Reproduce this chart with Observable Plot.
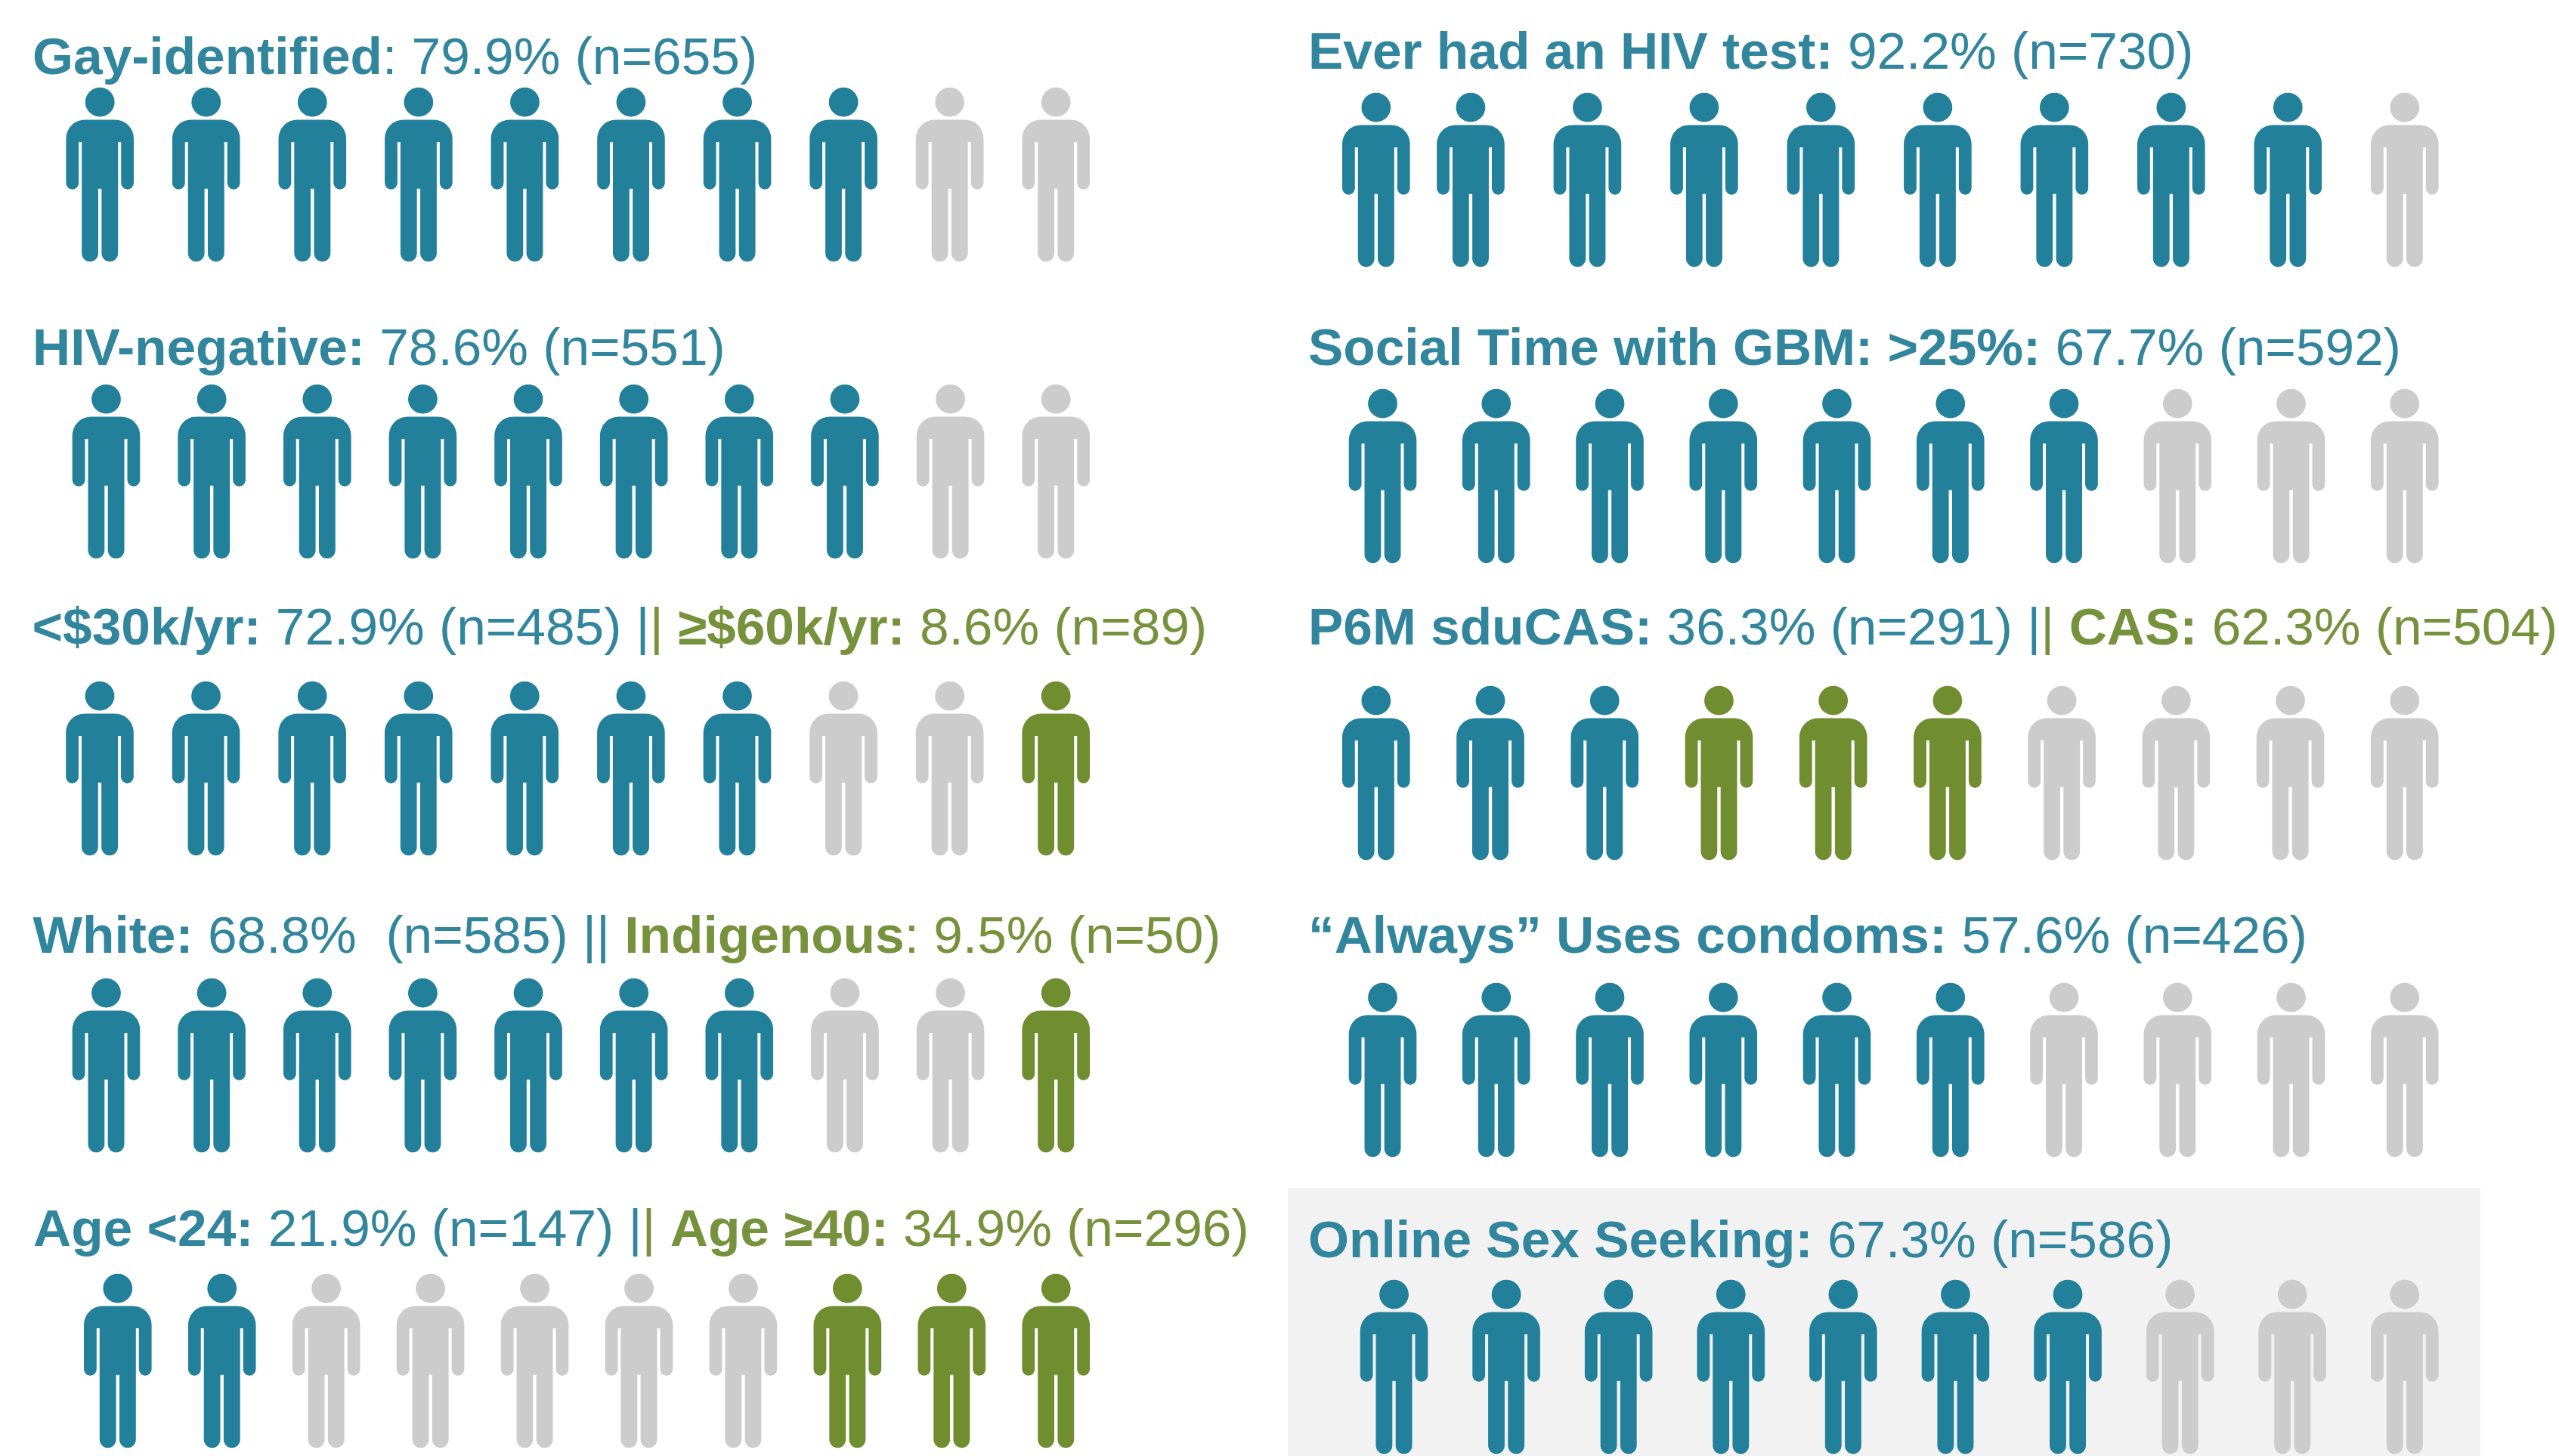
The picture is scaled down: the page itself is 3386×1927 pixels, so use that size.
<!DOCTYPE html>
<html>
<head>
<meta charset="utf-8">
<script src="https://cdn.jsdelivr.net/npm/d3@7"></script>
<script src="https://cdn.jsdelivr.net/npm/@observablehq/plot@0.6"></script>
<style>
html,body{margin:0;padding:0;background:#fff}
#page{position:relative;width:3386px;height:1927px;overflow:hidden;background:#fff}
.title{position:absolute;font-family:"Liberation Sans",Arial,sans-serif;font-size:69.45px;line-height:69.45px;white-space:pre}
.title b{font-weight:700}
.title .a{color:#31859c}
.title .b{color:#76923c}
.panel{position:absolute}
.panel svg{display:block;background:transparent;overflow:visible}
#shade{position:absolute;background:#f2f2f2}
</style>
</head>
<body>
<div id="page"></div>
<script>
// ---- data: text segments [style, text], where a/b = colour group and upper case = bold
const titleGay = [["A","Gay-identified"],["a",": 79.9% (n=655)"]];
const titleHiv = [["A","HIV-negative:"],["a"," 78.6% (n=551)"]];
const titleIncome = [["A","<$30k/yr:"],["a"," 72.9% (n=485) |"],["b","| "],["B","≥$60k/yr:"],["b"," 8.6% (n=89)"]];
const titleRace = [["A","White:"],["a"," 68.8%  (n=585) || "],["B","Indigenous"],["b",": 9.5% (n=50)"]];
const titleAge = [["A","Age <24:"],["a"," 21.9% (n=147) |"],["b","| "],["B","Age ≥40:"],["b"," 34.9% (n=296)"]];
const titleTest = [["A","Ever had an HIV test:"],["a"," 92.2% (n=730)"]];
const titleSocial = [["A","Social Time with GBM: >25%:"],["a"," 67.7% (n=592)"]];
const titleCas = [["A","P6M sduCAS:"],["a"," 36.3% (n=291) |"],["b","| "],["B","CAS:"],["b"," 62.3% (n=504)"]];
const titleCondom = [["A","“Always” Uses condoms:"],["a"," 57.6% (n=426)"]];
const titleOnline = [["A","Online Sex Seeking:"],["a"," 67.3% (n=586)"]];

// people per row, in order along the row: [group, count]
const peopleGay = [["primary",8],["rest",2]];
const peopleHiv = [["primary",8],["rest",2]];
const peopleIncome = [["primary",7],["rest",2],["secondary",1]];
const peopleRace = [["primary",7],["rest",2],["secondary",1]];
const peopleAge = [["primary",2],["rest",5],["secondary",3]];
const peopleTest = [["primary",9],["rest",1]];
const peopleSocial = [["primary",7],["rest",3]];
const peopleCas = [["primary",3],["secondary",3],["rest",4]];
const peopleCondom = [["primary",6],["rest",4]];
const peopleOnline = [["primary",7],["rest",3]];

// ---- layout (pixels), kept apart from the data
const colours = {primary:"#23809b", secondary:"#708e30", rest:"#cccccc"};
const figureHeight = 230.5;
const rows = [
  {title:titleGay,    people:peopleGay,    textX:43,   base:99,     x0:131.7,  x1:1396.7, bottom:345.5},
  {title:titleHiv,    people:peopleHiv,    textX:43,   base:483.5,  x0:140,    x1:1396.7, bottom:739},
  {title:titleIncome, people:peopleIncome, textX:42.5, base:853.3,  x0:131.5,  x1:1396.7, bottom:1132},
  {title:titleRace,   people:peopleRace,   textX:43.5, base:1261.7, x0:140,    x1:1396.7, bottom:1525},
  {title:titleAge,    people:peopleAge,    textX:44,   base:1649.3, x0:155.3,  x1:1396.7, bottom:1916},
  {title:titleTest,   people:peopleTest,   textX:1731, base:91.7,   x0:1820.3, x1:3181.3, bottom:352.3, firstSlot:1.19},
  {title:titleSocial, people:peopleSocial, textX:1731, base:484,    x0:1829,   x1:3181.3, bottom:745},
  {title:titleCas,    people:peopleCas,    textX:1731, base:853.3,  x0:1820.3, x1:3181.3, bottom:1138},
  {title:titleCondom, people:peopleCondom, textX:1731, base:1261.7, x0:1829,   x1:3181.3, bottom:1531},
  {title:titleOnline, people:peopleOnline, textX:1731, base:1665,   x0:1844,   x1:3181.3, bottom:1923.3}
];
const shade = {left:1704, right:3282, top:1572, bottom:1927};

// pictogram drawn around its own centre, scaled from the dot's radius
const person = {
  draw(ctx, size) {
    const k = Math.sqrt(size / Math.PI) / (figureHeight / 2);
    const X = x => k * x, Y = y => k * (y - figureHeight / 2);
    const end = (cx, cy, r) => ctx.arc(X(cx), Y(cy), k * r, 0, Math.PI);
    const headR = 19.4;
    ctx.moveTo(X(headR), Y(headR));
    ctx.arc(X(0), Y(headR), k * headR, 0, 2 * Math.PI);
    ctx.closePath();
    const top = 42.7, sh = 25, out = 44.8, ai = 28, li = 24, gap = 2.2, gapTop = 72.3, crotch = 134;
    const armR = (out - ai) / 2, legR = (li - gap) / 2;
    const armEnd = 135 - armR, legEnd = figureHeight - legR;
    ctx.moveTo(X(-out + sh), Y(top));
    ctx.lineTo(X(out - sh), Y(top));
    ctx.arcTo(X(out), Y(top), X(out), Y(top + sh), k * sh);
    ctx.lineTo(X(out), Y(armEnd));
    end(out - armR, armEnd, armR);
    ctx.lineTo(X(ai), Y(gapTop));
    ctx.lineTo(X(li), Y(gapTop));
    ctx.lineTo(X(li), Y(legEnd));
    end(li - legR, legEnd, legR);
    ctx.lineTo(X(gap), Y(crotch));
    ctx.lineTo(X(-gap), Y(crotch));
    ctx.lineTo(X(-gap), Y(legEnd));
    end(-gap - legR, legEnd, legR);
    ctx.lineTo(X(-li), Y(gapTop));
    ctx.lineTo(X(-ai), Y(gapTop));
    ctx.lineTo(X(-ai), Y(armEnd));
    end(-ai - armR, armEnd, armR);
    ctx.lineTo(X(-out), Y(top + sh));
    ctx.arcTo(X(-out), Y(top), X(-out + sh), Y(top), k * sh);
    ctx.closePath();
  }
};

const page = document.getElementById("page");
const shadeEl = document.createElement("div");
shadeEl.id = "shade";
Object.assign(shadeEl.style, {left: shade.left+"px", top: shade.top+"px", width: (shade.right-shade.left)+"px", height: (shade.bottom-shade.top)+"px"});
page.appendChild(shadeEl);

for (const row of rows) {
  // one person per slot, 1..10; firstSlot narrows the first gap where the reference does
  const group = row.people.flatMap(([g, n]) => Array(n).fill(g));
  const start = row.firstSlot ?? 1;
  const data = group.map((g, i) => ({slot: i === 0 ? start : i + 1, group: g}));

  const svgLeft = row.textX < 1000 ? 0 : 1680;
  const width = 1700, height = Math.ceil(figureHeight) + 6;
  const chart = Plot.plot({
    width, height,
    margin: 0,
    x: {domain: [start, 10], range: [row.x0 - svgLeft, row.x1 - svgLeft], axis: null},
    color: {domain: Object.keys(colours), range: Object.values(colours)},
    marks: [
      Plot.dot(data, {x: "slot", fill: "group", r: figureHeight / 2, symbol: person, stroke: "none"})
    ]
  });
  const holder = document.createElement("div");
  holder.className = "panel";
  holder.style.left = svgLeft + "px";
  holder.style.top = (row.bottom - figureHeight / 2 - height / 2) + "px";
  holder.appendChild(chart);
  page.appendChild(holder);

  const t = document.createElement("div");
  t.className = "title";
  t.style.left = row.textX + "px";
  t.style.top = (row.base - 69.45 * 0.8465) + "px";
  for (const [style, text] of row.title) {
    const s = document.createElement(style === style.toUpperCase() ? "b" : "span");
    s.className = style.toLowerCase();
    s.textContent = text;
    t.appendChild(s);
  }
  page.appendChild(t);
}
</script>
</body>
</html>
